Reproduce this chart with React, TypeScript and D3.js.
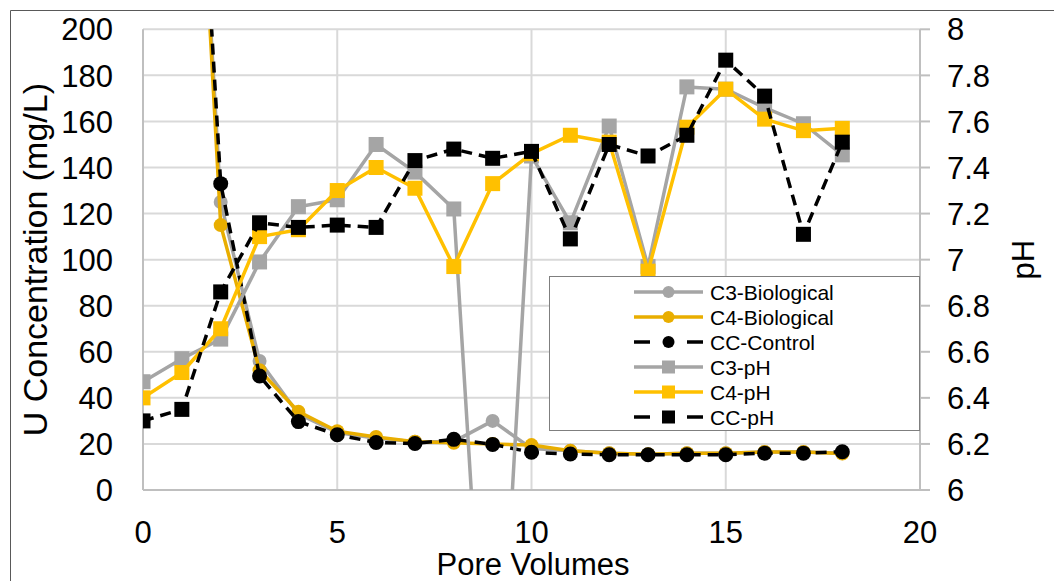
import React from 'react';
import * as d3 from 'd3';

const bioVolumes = [1, 2, 3, 4, 5, 6, 7, 8, 9, 10, 11, 12, 13, 14, 15, 16, 17, 18];
const c3Bio = [420, 125, 56, 33, 25, 22.5, 21, 21, 30, 18, 17, 16, 15.5, 16, 16, 16.5, 16.5, 16];
const c4Bio = [425, 115, 52, 34, 25.5, 23, 21, 20.5, 20, 19.5, 17, 16, 15.5, 16, 16, 16.5, 16.5, 15.8];
const ccControl = [420, 133, 49.5, 29.7, 24, 20.6, 20.2, 22, 19.8, 16.4, 15.6, 15.3, 15.3, 15.3, 15.3, 16, 16, 16.6];

const phVolumes = [0, 1, 2, 3, 4, 5, 6, 7, 8, 9, 10, 11, 12, 13, 14, 15, 16, 17, 18];
const c3pH = [6.47, 6.57, 6.655, 6.99, 7.23, 7.26, 7.5, 7.38, 7.22, 4.5, 7.45, 7.16, 7.58, 6.97, 7.75, 7.74, 7.66, 7.59, 7.455];
const c4pH = [6.4, 6.51, 6.7, 7.1, 7.13, 7.3, 7.4, 7.31, 6.97, 7.33, 7.46, 7.54, 7.51, 6.95, 7.575, 7.74, 7.61, 7.56, 7.57];
const ccpH = [6.3, 6.35, 6.86, 7.16, 7.14, 7.15, 7.14, 7.43, 7.48, 7.44, 7.47, 7.09, 7.5, 7.45, 7.54, 7.866, 7.71, 7.11, 7.51];

const xTicks = [0, 5, 10, 15, 20];
const yLeftTicks = [0, 20, 40, 60, 80, 100, 120, 140, 160, 180, 200];
const yRightTicks = [6, 6.2, 6.4, 6.6, 6.8, 7, 7.2, 7.4, 7.6, 7.8, 8];

const GREY = '#A5A5A5';
const GOLD_BIO = '#E9AE00';
const GOLD = '#FFC000';
const BLACK = '#000000';
const FONT = '"Liberation Sans", Arial, Helvetica, sans-serif';

type Series = {
  name: string;
  xs: number[];
  ys: number[];
  axis: 'left' | 'right';
  color: string;
  dashed: boolean;
  marker: 'circle' | 'square';
  size: number;
};

const series: Series[] = [
  { name: 'C3-Biological', xs: bioVolumes, ys: c3Bio, axis: 'left', color: GREY, dashed: false, marker: 'circle', size: 14 },
  { name: 'C4-Biological', xs: bioVolumes, ys: c4Bio, axis: 'left', color: GOLD_BIO, dashed: false, marker: 'circle', size: 14 },
  { name: 'CC-Control', xs: bioVolumes, ys: ccControl, axis: 'left', color: BLACK, dashed: true, marker: 'circle', size: 15 },
  { name: 'C3-pH', xs: phVolumes, ys: c3pH, axis: 'right', color: GREY, dashed: false, marker: 'square', size: 15 },
  { name: 'C4-pH', xs: phVolumes, ys: c4pH, axis: 'right', color: GOLD, dashed: false, marker: 'square', size: 15 },
  { name: 'CC-pH', xs: phVolumes, ys: ccpH, axis: 'right', color: BLACK, dashed: true, marker: 'square', size: 15 },
];

export default function App() {
  const W = 1054;
  const H = 581;
  const left = 143;
  const right = 920;
  const top = 29.3;
  const bottom = 490;

  const x = d3.scaleLinear().domain([0, 20]).range([left, right]);
  const yL = d3.scaleLinear().domain([0, 200]).range([bottom, top]);
  const yR = d3.scaleLinear().domain([6, 8]).range([bottom, top]);

  const tickFs = 31;
  const titleFs = 31;

  const legendX = 549.5;
  const legendY = 276.5;
  const legendW = 370;
  const legendH = 154;

  return (
    <svg width={W} height={H} style={{ position: 'absolute', left: 0, top: 0, background: '#fff' }} fontFamily={FONT}>
      <rect x={0} y={0} width={W} height={H} fill="#fff" />
      <line x1={10.5} y1={10.5} x2={W} y2={10.5} stroke="#595959" strokeWidth={1} />
      <line x1={10.5} y1={10.5} x2={10.5} y2={H} stroke="#595959" strokeWidth={1} />
      <defs>
        <clipPath id="plotClip">
          <rect x={left} y={top} width={right - left} height={bottom - top} />
        </clipPath>
      </defs>
      {yLeftTicks.filter((t) => t > 0).map((t) => (
        <line key={'h' + t} x1={left} x2={right} y1={yL(t)} y2={yL(t)} stroke="#D9D9D9" strokeWidth={2} />
      ))}
      {xTicks.filter((t) => t > 0 && t < 20).map((t) => (
        <line key={'v' + t} x1={x(t)} x2={x(t)} y1={top} y2={bottom} stroke="#D9D9D9" strokeWidth={2} />
      ))}
      <line x1={left} x2={left} y1={top} y2={bottom} stroke="#BFBFBF" strokeWidth={2} />
      <line x1={left} x2={right + 10} y1={bottom} y2={bottom} stroke="#BFBFBF" strokeWidth={2} />
      <line x1={right} x2={right} y1={top} y2={bottom} stroke="#BFBFBF" strokeWidth={2} />
      {yRightTicks.map((t) => (
        <line key={'rt' + t} x1={right} x2={right + 10} y1={yR(t)} y2={yR(t)} stroke="#BFBFBF" strokeWidth={2} />
      ))}

      <g clipPath="url(#plotClip)">
        {series.map((s) => {
          const yScale = s.axis === 'left' ? yL : yR;
          const pts: [number, number][] = s.xs.map((v, i) => [x(v), yScale(s.ys[i])]);
          const line = d3.line()(pts) || '';
          return (
            <g key={s.name}>
              <path
                d={line}
                fill="none"
                stroke={s.color}
                strokeWidth={3.5}
                strokeDasharray={s.dashed ? '11,7' : undefined}
                strokeLinejoin="round"
              />
              {pts.map(([px, py], i) =>
                s.marker === 'circle' ? (
                  <circle key={i} cx={px} cy={py} r={s.size / 2} fill={s.color} />
                ) : (
                  <rect key={i} x={px - s.size / 2} y={py - s.size / 2} width={s.size} height={s.size} fill={s.color} />
                )
              )}
            </g>
          );
        })}
      </g>

      {yLeftTicks.map((t) => (
        <text key={'lt' + t} x={113} y={yL(t) + tickFs * 0.36} textAnchor="end" fontSize={tickFs} fill="#000">
          {t}
        </text>
      ))}
      {yRightTicks.map((t) => (
        <text key={'rl' + t} x={947} y={yR(t) + tickFs * 0.36} textAnchor="start" fontSize={tickFs} fill="#000">
          {d3.format('~g')(t)}
        </text>
      ))}
      {xTicks.map((t) => (
        <text key={'xt' + t} x={x(t)} y={543} textAnchor="middle" fontSize={tickFs} fill="#000">
          {t}
        </text>
      ))}
      <text x={533} y={575} textAnchor="middle" fontSize={titleFs} fill="#000">Pore Volumes</text>
      <text transform={`translate(47,${(top + bottom) / 2}) rotate(-90)`} textAnchor="middle" fontSize={34} fill="#000">
        U Concentration (mg/L)
      </text>
      <text transform={`translate(1034,${(top + bottom) / 2}) rotate(-90)`} textAnchor="middle" fontSize={titleFs} fill="#000">
        pH
      </text>

      <rect x={legendX} y={legendY} width={legendW} height={legendH} fill="#fff" stroke="#7F7F7F" strokeWidth={1} />
      {series.map((s, i) => {
        const cy = 292 + i * 25;
        const x1 = 634;
        const x2 = 703;
        const mx = 668.5;
        const ms = s.marker === 'circle' ? 12 : 13;
        return (
          <g key={'lg' + s.name}>
            {s.dashed ? (
              <>
                <line x1={x1} x2={x1 + 16} y1={cy} y2={cy} stroke={s.color} strokeWidth={3.5} />
                <line x1={x2 - 16} x2={x2} y1={cy} y2={cy} stroke={s.color} strokeWidth={3.5} />
              </>
            ) : (
              <line x1={x1} x2={x2} y1={cy} y2={cy} stroke={s.color} strokeWidth={3.5} />
            )}
            {s.marker === 'circle' ? (
              <circle cx={mx} cy={cy} r={ms / 2} fill={s.color} />
            ) : (
              <rect x={mx - ms / 2} y={cy - ms / 2} width={ms} height={ms} fill={s.color} />
            )}
            <text x={710} y={cy + 7.5} fontSize={21} fill="#000">{s.name}</text>
          </g>
        );
      })}
    </svg>
  );
}
